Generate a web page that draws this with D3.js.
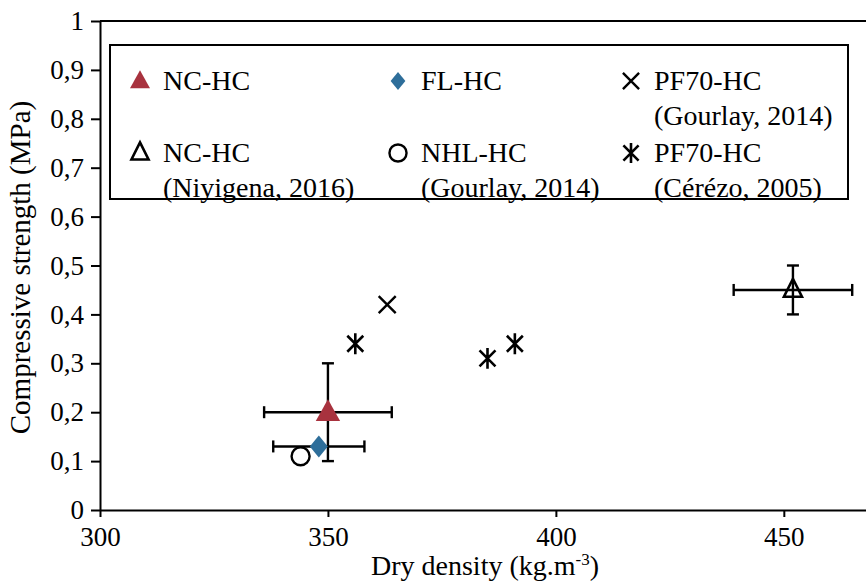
<!DOCTYPE html>
<html>
<head>
<meta charset="utf-8">
<script src="https://cdn.jsdelivr.net/npm/d3@7"></script>
<style>
  html, body { margin: 0; padding: 0; background: #fff; }
  svg { display: block; }
</style>
</head>
<body>
<svg id="chart" width="866" height="583"></svg>
<script>
// Axis ticks
const xTicks = [300, 350, 400, 450];
const yTicks = [0, 0.1, 0.2, 0.3, 0.4, 0.5, 0.6, 0.7, 0.8, 0.9, 1];
const yTickLabels = ["0", "0,1", "0,2", "0,3", "0,4", "0,5", "0,6", "0,7", "0,8", "0,9", "1"];

// Series: dry density (kg/m3), compressive strength (MPa) and error half-widths
const ncHC      = [{ x: 350, y: 0.20, ex: 14, ey: 0.10 }];
const flHC      = [{ x: 348, y: 0.13, ex: 10, ey: 0 }];
const pf70Gour  = [{ x: 363, y: 0.42 }];
const ncHCNiy   = [{ x: 452, y: 0.45, ex: 13, ey: 0.05 }];
const nhlGour   = [{ x: 344, y: 0.11 }];
const pf70Cer   = [{ x: 356, y: 0.34 }, { x: 385, y: 0.31 }, { x: 391, y: 0.34 }];

const legendLines = [
  { key: "tri",   lines: ["NC-HC"] },
  { key: "dia",   lines: ["FL-HC"] },
  { key: "x",     lines: ["PF70-HC", "(Gourlay, 2014)"] },
  { key: "otri",  lines: ["NC-HC", "(Niyigena, 2016)"] },
  { key: "circ",  lines: ["NHL-HC", "(Gourlay, 2014)"] },
  { key: "ast",   lines: ["PF70-HC", "(Cérézo, 2005)"] }
];

const RED = "#A8323E";
const BLUE = "#2E6E9A";
const SERIF = "'Liberation Serif', 'Times New Roman', serif";

const svg = d3.select("#chart").style("font-family", SERIF);
const plotL = 100, plotT = 21, plotB = 510, plotR = 875;

const x = d3.scaleLinear().domain([300, 470]).range([plotL, plotR]);
const y = d3.scaleLinear().domain([0, 1]).range([plotB, plotT]);

// Marker shape paths centred on (0,0)
const shapes = {
  tri:  s => `M0,${-s * 0.62}L${s * 0.58},${s * 0.42}L${-s * 0.58},${s * 0.42}Z`,
  otri: s => `M0,${-s * 0.62}L${s * 0.5},${s * 0.38}L${-s * 0.5},${s * 0.38}Z`,
  dia:  s => `M0,${-s * 0.55}L${s * 0.45},0L0,${s * 0.55}L${-s * 0.45},0Z`,
  x:    s => `M${-s / 2},${-s / 2}L${s / 2},${s / 2}M${s / 2},${-s / 2}L${-s / 2},${s / 2}`,
  ast:  s => `M${-s * 0.42},${-s * 0.42}L${s * 0.42},${s * 0.42}M${s * 0.42},${-s * 0.42}L${-s * 0.42},${s * 0.42}M0,${-s * 0.55}L0,${s * 0.55}`,
  circ: s => d3.arc()({ innerRadius: 0, outerRadius: s / 2, startAngle: 0, endAngle: 2 * Math.PI })
};
const styles = {
  tri:  { fill: RED, stroke: "none", sw: 0, size: 21 },
  dia:  { fill: BLUE, stroke: "none", sw: 0, size: 20 },
  x:    { fill: "none", stroke: "#000", sw: 2.4, size: 17 },
  otri: { fill: "none", stroke: "#000", sw: 2.6, size: 18 },
  circ: { fill: "none", stroke: "#000", sw: 2.4, size: 18 },
  ast:  { fill: "none", stroke: "#000", sw: 2.6, size: 19 }
};

function drawMarker(g, key, cx, cy, scale = 1) {
  const st = styles[key];
  g.append("path")
    .attr("d", shapes[key](st.size * scale))
    .attr("transform", `translate(${cx},${cy})`)
    .attr("fill", st.fill)
    .attr("stroke", st.stroke)
    .attr("stroke-width", st.sw);
}

// Plot frame top line
svg.append("line")
  .attr("x1", plotL).attr("x2", 866 + 5)
  .attr("y1", plotT).attr("y2", plotT)
  .attr("stroke", "#000").attr("stroke-width", 2);

// Axes
const yAxis = d3.axisLeft(y)
  .tickValues(yTicks)
  .tickFormat((d, i) => yTickLabels[i])
  .tickSizeInner(9).tickSizeOuter(0).tickPadding(7);
const gy = svg.append("g").attr("transform", `translate(${plotL},0)`).call(yAxis);

const xAxis = d3.axisBottom(x)
  .tickValues(xTicks)
  .tickSizeInner(7).tickSizeOuter(0).tickPadding(9);
const gx = svg.append("g").attr("transform", `translate(0,${plotB})`).call(xAxis);

[gx, gy].forEach(g => {
  g.attr("font-family", null).attr("font-size", null);
  g.select(".domain").attr("stroke", "#000").attr("stroke-width", 2);
  g.selectAll(".tick line").attr("stroke", "#000").attr("stroke-width", 2);
  g.selectAll(".tick text")
    .attr("fill", "#000")
    .style("font-family", SERIF)
    .style("font-size", "27px");
});
gx.selectAll(".tick text").attr("dy", "0.74em");

// Axis titles
svg.append("text")
  .attr("transform", `translate(30,${(plotT + plotB) / 2 + 2}) rotate(-90)`)
  .attr("text-anchor", "middle")
  .style("font-size", "29px")
  .text("Compressive strength (MPa)");

const xt = svg.append("text")
  .attr("x", 485).attr("y", 575)
  .attr("text-anchor", "middle")
  .style("font-size", "28px");
xt.append("tspan").text("Dry density (kg.m");
xt.append("tspan").attr("dy", -10).style("font-size", "17px").text("-3");
xt.append("tspan").attr("dy", 10).text(")");

// Error bars
function errorBars(data) {
  const cap = 6;
  const g = svg.append("g").attr("stroke", "#000").attr("stroke-width", 2.4);
  data.forEach(d => {
    if (d.ex) {
      const x0 = x(d.x - d.ex), x1 = x(d.x + d.ex), yy = y(d.y);
      g.append("line").attr("x1", x0).attr("x2", x1).attr("y1", yy).attr("y2", yy);
      g.append("line").attr("x1", x0).attr("x2", x0).attr("y1", yy - cap).attr("y2", yy + cap);
      g.append("line").attr("x1", x1).attr("x2", x1).attr("y1", yy - cap).attr("y2", yy + cap);
    }
    if (d.ey) {
      const y0 = y(d.y - d.ey), y1 = y(d.y + d.ey), xx = x(d.x);
      g.append("line").attr("x1", xx).attr("x2", xx).attr("y1", y0).attr("y2", y1);
      g.append("line").attr("x1", xx - cap).attr("x2", xx + cap).attr("y1", y0).attr("y2", y0);
      g.append("line").attr("x1", xx - cap).attr("x2", xx + cap).attr("y1", y1).attr("y2", y1);
    }
  });
}
errorBars(flHC);
errorBars(ncHC);
errorBars(ncHCNiy);

// Points
const marks = svg.append("g");
[[nhlGour, "circ"], [flHC, "dia"], [ncHC, "tri"], [pf70Gour, "x"], [pf70Cer, "ast"], [ncHCNiy, "otri"]]
  .forEach(([data, key]) => data.forEach(d => drawMarker(marks, key, x(d.x), y(d.y))));

// Legend
const lg = svg.append("g");
lg.append("rect")
  .attr("x", 110).attr("y", 45).attr("width", 738).attr("height", 154)
  .attr("fill", "#fff").attr("stroke", "#000").attr("stroke-width", 2);
const colX = [140, 398, 631];
const rowY = [81, 153];
const lineGap = 35;
legendLines.forEach((item, i) => {
  const cx = colX[i % 3], cy = rowY[Math.floor(i / 3)];
  drawMarker(lg, item.key, cx, cy, item.key === "tri" || item.key === "dia" ? 0.82 : 0.95);
  const t = lg.append("text")
    .attr("x", cx + 23).attr("y", cy + 9)
    .style("font-size", "28px");
  item.lines.forEach((ln, j) => {
    t.append("tspan").attr("x", cx + 23).attr("dy", j === 0 ? 0 : lineGap).text(ln);
  });
});
</script>
</body>
</html>
